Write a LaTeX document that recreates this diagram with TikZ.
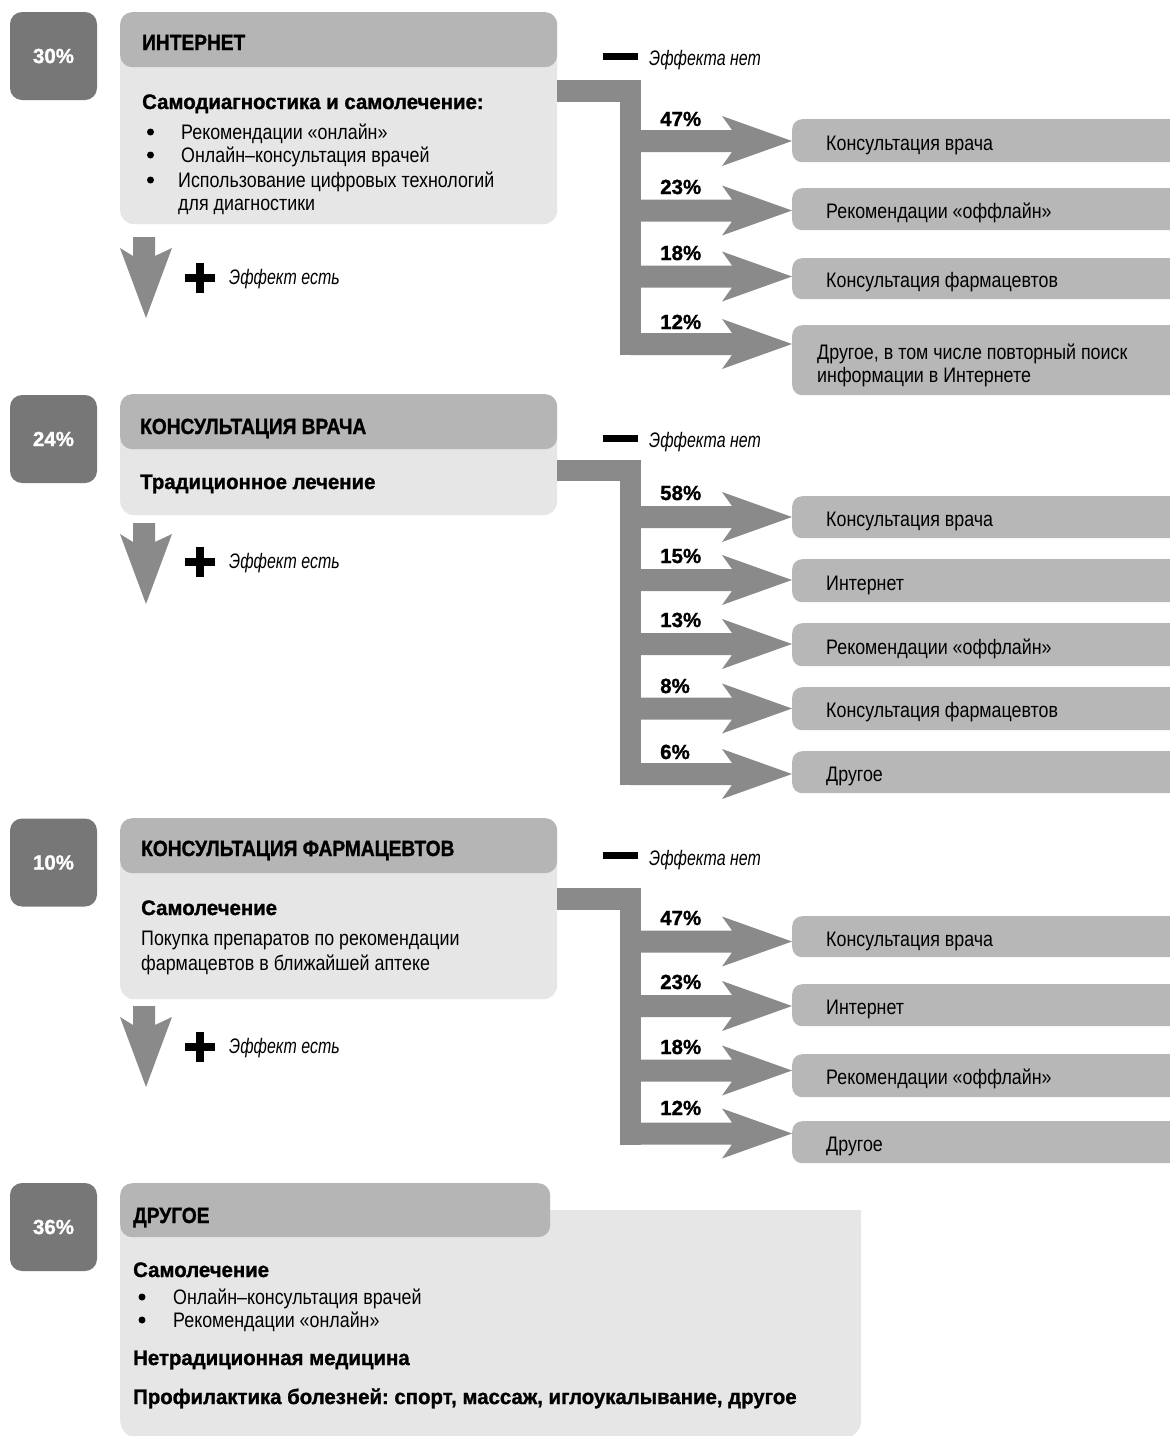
\documentclass[tikz,border=0pt]{standalone}
\usepackage{fontspec}
\setmainfont{Liberation Sans}[FakeStretch=0.85]
\newfontfamily\hdrfam{Liberation Sans}[FakeStretch=0.87,FakeBold=1.2]
\newfontfamily\subfam{Liberation Sans}[FakeStretch=0.97,FakeBold=1.2]
\newfontfamily\pctfam{Liberation Sans}[FakeStretch=1.0,FakeBold=1.2]
\newfontfamily\itfam{Liberation Sans}[FakeStretch=0.76]
\frenchspacing
\definecolor{pctc}{HTML}{777777}
\definecolor{hdrc}{HTML}{B5B5B5}
\definecolor{bdyc}{HTML}{E6E6E6}
\definecolor{arrc}{HTML}{8A8A8A}
\definecolor{tgtc}{HTML}{B7B7B7}
\newcommand\myreg{\normalfont\fontsize{21}{25}\selectfont}
\newcommand\myita{\itfam\itshape\fontsize{21}{25}\selectfont}
\newcommand\myhdr{\hdrfam\bfseries\fontsize{22}{26}\selectfont}
\newcommand\mysub{\subfam\bfseries\fontsize{21}{25}\selectfont}
\newcommand\mypct{\pctfam\bfseries\fontsize{20.5}{24}\selectfont}
\newcommand\downarr[1]{\fill[arrc] (133,#1) -- (155,#1) -- (155,#1+19) -- (172,#1+11) -- (146,#1+81) -- (120,#1+11) -- (133,#1+19) -- cycle;}
\newcommand\plusmark[1]{\fill[black] (185,#1-4.25) rectangle (215,#1+4.25); \fill[black] (195.75,#1-15) rectangle (204.25,#1+15);}
\newcommand\headarr[1]{\fill[arrc] (630,#1-11) -- (732,#1-11) -- (722,#1-25) -- (792,#1) -- (722,#1+25) -- (732,#1+11) -- (630,#1+11) -- cycle;}
\newcommand\nodash[1]{\fill[black] (603,#1-3.5) rectangle (638,#1+3.5);}
\tikzset{
  pctbox/.style={fill=pctc, rounded corners=12pt, minimum width=87pt, minimum height=88pt, inner sep=0pt, text=white, font=\mypct},
  hdrbox/.style={fill=hdrc, rounded corners=12pt, anchor=north west, inner sep=0pt},
  bodybox/.style={fill=bdyc, rounded corners=14pt, anchor=north west, inner sep=0pt},
  tgtbox/.style={fill=tgtc, rounded corners=10pt, anchor=north west, inner sep=0pt, minimum width=420pt},
  txt/.style={anchor=base west, inner sep=0pt, font=\myreg},
  itx/.style={anchor=base west, inner sep=0pt, font=\myita},
  hdr/.style={anchor=base west, inner sep=0pt, font=\myhdr},
  sub/.style={anchor=base west, inner sep=0pt, font=\mysub},
  lbl/.style={anchor=base west, inner sep=0pt, font=\mypct},
  dot/.style={circle, fill=black, inner sep=0pt, minimum size=7pt},
}
\begin{document}
\begin{tikzpicture}[x=1pt,y=-1pt]
\useasboundingbox[fill=white] (0,0) rectangle (1170,1436);

% ================= Section 1 =================
\node[pctbox] (p1) at (53.5,56) {30\%};
\node[bodybox, minimum width=437pt, minimum height=212pt] (b1) at (120,12) {};
\node[hdrbox, minimum width=437pt, minimum height=55pt] (h1) at (120,12) {};
\node[hdr] (h1t) at (142,50) {ИНТЕРНЕТ};
\node[sub] (s1t) at (142,109) {Самодиагностика и самолечение:};
\node[dot] (bu11) at (150.5,132) {};
\node[dot] (bu12) at (150.5,155) {};
\node[dot] (bu13) at (150.5,180) {};
\node[txt] (l11) at (181,139) {Рекомендации «онлайн»};
\node[txt] (l12) at (181,162) {Онлайн–консультация врачей};
\node[txt] (l13) at (178,187) {Использование цифровых технологий};
\node[txt] (l14) at (178,210) {для диагностики};
\downarr{237}
\plusmark{278}
\node[itx] (e1) at (229,284) {Эффект есть};
\nodash{56}
\node[itx] (n1) at (649,65) {Эффекта нет};
% branch
\fill[arrc] (b1.east |- 0,80) rectangle (641,102);
\fill[arrc] (620,80) rectangle (641,355);
\foreach \c in {141,210.5,276.5,344} {\headarr{\c}}
\node[tgtbox, minimum height=43pt] (t11) at (792,119) {};
\node[tgtbox, minimum height=42pt] (t12) at (792,188) {};
\node[tgtbox, minimum height=41pt] (t13) at (792,258) {};
\node[tgtbox, minimum height=70pt] (t14) at (792,325) {};
\node[txt] (t11t) at (826,150) {Консультация врача};
\node[txt] (t12t) at (826,218) {Рекомендации «оффлайн»};
\node[txt] (t13t) at (826,287) {Консультация фармацевтов};
\node[txt] (t14a) at (817,359) {Другое, в том числе повторный поиск};
\node[txt] (t14b) at (817,382) {информации в Интернете};
\node[lbl] (q11) at (660,126) {47\%};
\node[lbl] (q12) at (660,194) {23\%};
\node[lbl] (q13) at (660,260) {18\%};
\node[lbl] (q14) at (660,329) {12\%};

% ================= Section 2 =================
\node[pctbox] (p2) at (53.5,439) {24\%};
\node[bodybox, minimum width=437pt, minimum height=121pt] (b2) at (120,394) {};
\node[hdrbox, minimum width=437pt, minimum height=55pt] (h2) at (120,394) {};
\node[hdr] (h2t) at (140,434) {КОНСУЛЬТАЦИЯ ВРАЧА};
\node[sub] (s2t) at (140,489) {Традиционное лечение};
\downarr{523}
\plusmark{562}
\node[itx] (e2) at (229,568) {Эффект есть};
\nodash{438}
\node[itx] (n2) at (649,447) {Эффекта нет};
\fill[arrc] (b2.east |- 0,460) rectangle (641,481);
\fill[arrc] (620,460) rectangle (641,785);
\foreach \c in {517,580,644,708.5,774} {\headarr{\c}}
\node[tgtbox, minimum height=42pt] (t21) at (792,496) {};
\node[tgtbox, minimum height=43pt] (t22) at (792,559) {};
\node[tgtbox, minimum height=43pt] (t23) at (792,623) {};
\node[tgtbox, minimum height=43pt] (t24) at (792,687) {};
\node[tgtbox, minimum height=42pt] (t25) at (792,751) {};
\node[txt] (t21t) at (826,526) {Консультация врача};
\node[txt] (t22t) at (826,590) {Интернет};
\node[txt] (t23t) at (826,654) {Рекомендации «оффлайн»};
\node[txt] (t24t) at (826,717) {Консультация фармацевтов};
\node[txt] (t25t) at (826,781) {Другое};
\node[lbl] (q21) at (660,500) {58\%};
\node[lbl] (q22) at (660,563) {15\%};
\node[lbl] (q23) at (660,627) {13\%};
\node[lbl] (q24) at (660,693) {8\%};
\node[lbl] (q25) at (660,759) {6\%};

% ================= Section 3 =================
\node[pctbox] (p3) at (53.5,862.5) {10\%};
\node[bodybox, minimum width=437pt, minimum height=181pt] (b3) at (120,818) {};
\node[hdrbox, minimum width=437pt, minimum height=55pt] (h3) at (120,818) {};
\node[hdr] (h3t) at (141,856) {КОНСУЛЬТАЦИЯ ФАРМАЦЕВТОВ};
\node[sub] (s3t) at (141,915) {Самолечение};
\node[txt] (l31) at (141,945) {Покупка препаратов по рекомендации};
\node[txt] (l32) at (141,970) {фармацевтов в ближайшей аптеке};
\downarr{1006}
\plusmark{1047}
\node[itx] (e3) at (229,1053) {Эффект есть};
\nodash{855}
\node[itx] (n3) at (649,865) {Эффекта нет};
\fill[arrc] (b3.east |- 0,888) rectangle (641,909.5);
\fill[arrc] (620,888) rectangle (641,1144.5);
\foreach \c in {941.5,1006,1070.5,1133.5} {\headarr{\c}}
\node[tgtbox, minimum height=41pt] (t31) at (792,916) {};
\node[tgtbox, minimum height=42pt] (t32) at (792,984) {};
\node[tgtbox, minimum height=43pt] (t33) at (792,1054) {};
\node[tgtbox, minimum height=42pt] (t34) at (792,1121) {};
\node[txt] (t31t) at (826,946) {Консультация врача};
\node[txt] (t32t) at (826,1014) {Интернет};
\node[txt] (t33t) at (826,1084) {Рекомендации «оффлайн»};
\node[txt] (t34t) at (826,1151) {Другое};
\node[lbl] (q31) at (660,925) {47\%};
\node[lbl] (q32) at (660,989) {23\%};
\node[lbl] (q33) at (660,1054) {18\%};
\node[lbl] (q34) at (660,1115) {12\%};

% ================= Section 4 =================
\node[pctbox] (p4) at (53.5,1227) {36\%};
\node[bodybox, rounded corners=18pt, minimum width=741pt, minimum height=228pt] (b4) at (120,1210) {};
\fill[bdyc] (831,1210) rectangle (861,1250);
\node[hdrbox, minimum width=430pt, minimum height=54pt] (h4) at (120,1183) {};
\node[hdr] (h4t) at (133,1223) {ДРУГОЕ};
\node[sub] (s4a) at (133,1277) {Самолечение};
\node[dot] (bu41) at (142,1297) {};
\node[dot] (bu42) at (142,1320) {};
\node[txt] (l41) at (173,1304) {Онлайн–консультация врачей};
\node[txt] (l42) at (173,1327) {Рекомендации «онлайн»};
\node[sub] (s4b) at (133,1365) {Нетрадиционная медицина};
\node[sub] (s4c) at (133,1404) {Профилактика болезней: спорт, массаж, иглоукалывание, другое};
\end{tikzpicture}
\end{document}
